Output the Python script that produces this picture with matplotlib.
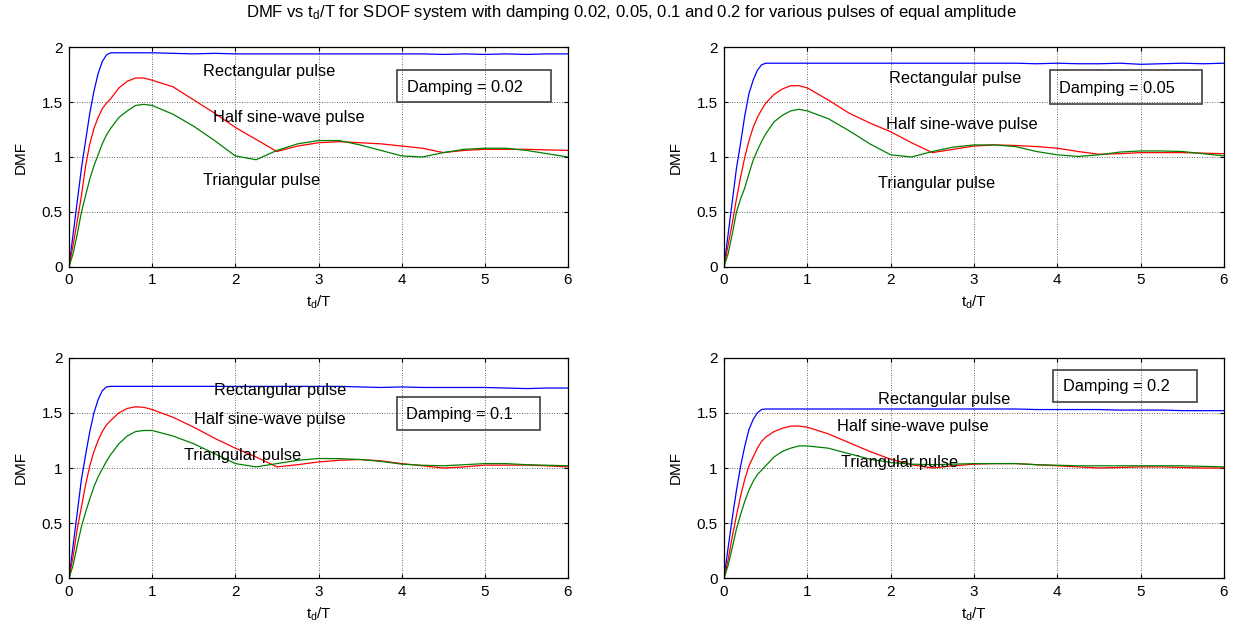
"""DMF vs td/T for an SDOF system under three pulse shapes, four damping ratios."""
import matplotlib
matplotlib.use("Agg")
import matplotlib.pyplot as plt
from matplotlib.patches import Rectangle

plt.rcParams["font.family"] = ["Liberation Sans", "DejaVu Sans"]
plt.rcParams["mathtext.default"] = "regular"

# pulse duration / natural period (sample points)
TD = [0, 0.05, 0.1, 0.15, 0.2, 0.25, 0.3, 0.35, 0.4, 0.45, 0.5,
      0.6, 0.7, 0.8, 0.9, 1.0, 1.25, 1.5, 1.75, 2.0, 2.25, 2.5,
      2.75, 3.0, 3.25, 3.5, 3.75, 4.0, 4.25, 4.5, 4.75, 5.0, 5.25, 5.5, 5.75, 6.0]

DAMPING = ["0.02", "0.05", "0.1", "0.2"]

RECT_002 = [0, .30, .60, .90, 1.15, 1.40, 1.60, 1.76, 1.87, 1.93, 1.95,
            1.95, 1.95, 1.95, 1.95, 1.95, 1.945, 1.94, 1.945, 1.94, 1.94, 1.94,
            1.94, 1.94, 1.94, 1.94, 1.94, 1.94, 1.94, 1.935, 1.94, 1.935, 1.94, 1.935, 1.94, 1.94]
HALF_002 = [0, .20, .42, .65, .92, 1.12, 1.26, 1.36, 1.44, 1.49, 1.53,
            1.63, 1.69, 1.72, 1.72, 1.70, 1.64, 1.52, 1.40, 1.27, 1.16, 1.05,
            1.10, 1.13, 1.14, 1.13, 1.12, 1.10, 1.08, 1.04, 1.06, 1.07, 1.07, 1.07, 1.065, 1.06]
TRI_002 = [0, .12, .30, .50, .65, .80, .92, 1.02, 1.12, 1.20, 1.26,
           1.36, 1.42, 1.47, 1.48, 1.47, 1.39, 1.28, 1.15, 1.01, 0.975, 1.06,
           1.12, 1.15, 1.15, 1.11, 1.06, 1.01, 1.0, 1.04, 1.07, 1.08, 1.08, 1.06, 1.03, 1.0]

RECT_005 = [0, .30, .60, .90, 1.13, 1.38, 1.58, 1.70, 1.79, 1.84, 1.855,
            1.855, 1.855, 1.855, 1.855, 1.855, 1.855, 1.855, 1.855, 1.855, 1.855, 1.855,
            1.855, 1.855, 1.855, 1.855, 1.85, 1.855, 1.85, 1.85, 1.855, 1.845, 1.85, 1.855, 1.85, 1.855]
HALF_005 = [0, .20, .40, .62, .82, 1.00, 1.15, 1.27, 1.36, 1.43, 1.49,
            1.57, 1.62, 1.65, 1.65, 1.63, 1.52, 1.40, 1.31, 1.23, 1.13, 1.04,
            1.07, 1.10, 1.11, 1.105, 1.095, 1.08, 1.05, 1.025, 1.03, 1.04, 1.04, 1.04, 1.035, 1.03]
TRI_005 = [0, .12, .30, .50, .62, .72, .85, .97, 1.06, 1.14, 1.21,
           1.32, 1.38, 1.42, 1.435, 1.42, 1.35, 1.24, 1.12, 1.02, 1.0, 1.05,
           1.09, 1.11, 1.11, 1.095, 1.05, 1.02, 1.005, 1.02, 1.045, 1.055, 1.055, 1.05, 1.03, 1.01]

RECT_01 = [0, .30, .60, .90, 1.12, 1.33, 1.50, 1.62, 1.70, 1.735, 1.74,
           1.74, 1.74, 1.74, 1.74, 1.74, 1.74, 1.74, 1.74, 1.74, 1.74, 1.74,
           1.74, 1.74, 1.74, 1.735, 1.73, 1.735, 1.73, 1.73, 1.73, 1.73, 1.725, 1.72, 1.725, 1.725]
HALF_01 = [0, .20, .45, .65, .85, 1.02, 1.15, 1.25, 1.33, 1.39, 1.43,
           1.50, 1.54, 1.555, 1.55, 1.53, 1.46, 1.37, 1.27, 1.18, 1.10, 1.01,
           1.03, 1.055, 1.07, 1.077, 1.065, 1.04, 1.02, 1.0, 1.01, 1.026, 1.026, 1.026, 1.02, 1.01]
TRI_01 = [0, .12, .30, .47, .60, .72, .83, .92, .99, 1.06, 1.12,
          1.22, 1.29, 1.33, 1.34, 1.34, 1.29, 1.22, 1.13, 1.04, 1.01, 1.04,
          1.07, 1.086, 1.085, 1.077, 1.06, 1.035, 1.025, 1.02, 1.03, 1.04, 1.04, 1.03, 1.025, 1.02]

RECT_02 = [0, .28, .55, .80, 1.02, 1.20, 1.35, 1.44, 1.50, 1.53, 1.535,
           1.535, 1.535, 1.535, 1.535, 1.535, 1.535, 1.535, 1.535, 1.535, 1.535, 1.535,
           1.535, 1.535, 1.535, 1.535, 1.53, 1.53, 1.53, 1.53, 1.525, 1.525, 1.525, 1.52, 1.52, 1.52]
HALF_02 = [0, .17, .38, .57, .75, .90, 1.02, 1.10, 1.18, 1.24, 1.28,
           1.33, 1.36, 1.38, 1.38, 1.37, 1.31, 1.23, 1.15, 1.08, 1.03, 1.0,
           1.02, 1.035, 1.04, 1.04, 1.03, 1.02, 1.01, 1.0, 1.005, 1.01, 1.01, 1.005, 1.0, 1.0]
TRI_02 = [0, .12, .28, .45, .58, .70, .80, .88, .94, .98, 1.02,
          1.10, 1.15, 1.18, 1.20, 1.20, 1.18, 1.13, 1.08, 1.05, 1.035, 1.03,
          1.035, 1.04, 1.04, 1.04, 1.03, 1.025, 1.02, 1.02, 1.02, 1.02, 1.02, 1.02, 1.015, 1.01]

RECT = [RECT_002, RECT_005, RECT_01, RECT_02]
HALF = [HALF_002, HALF_005, HALF_01, HALF_02]
TRI = [TRI_002, TRI_005, TRI_01, TRI_02]

LABELS = ["Rectangular pulse", "Half sine-wave pulse", "Triangular pulse"]
# label anchors (data coords) per panel: rect, half, tri
LABEL_POS = [
    [(1.61, 1.78), (1.73, 1.36), (1.61, 0.785)],
    [(1.98, 1.72), (1.94, 1.30), (1.845, 0.757)],
    [(1.74, 1.70), (1.50, 1.44), (1.38, 1.116)],
    [(1.845, 1.623), (1.36, 1.373), (1.40, 1.047)],
]
# damping box: x0, x1, y0, y1, text x, text y
BOX_POS = [
    (3.94, 5.79, 1.497, 1.79, 4.06, 1.636),
    (3.91, 5.74, 1.485, 1.79, 4.02, 1.627),
    (3.94, 5.66, 1.348, 1.644, 4.05, 1.484),
    (3.945, 5.68, 1.597, 1.887, 4.07, 1.743),
]

W, H = 1236, 635
AX_PX = [  # left, top, right, bottom in pixels
    (69, 47.3, 568, 266.7),
    (724, 47.3, 1224, 266.7),
    (69, 357.7, 568, 578.3),
    (724, 357.7, 1224, 578.3),
]

fig = plt.figure(figsize=(W / 100, H / 100), dpi=100)
fig.patch.set_facecolor("white")

for i, (l, t, r, b) in enumerate(AX_PX):
    ax = fig.add_axes([l / W, 1 - b / H, (r - l) / W, (b - t) / H])
    ax.plot(TD, RECT[i], color="#0000ff", lw=0.9)
    ax.plot(TD, HALF[i], color="#ff0000", lw=0.9)
    ax.plot(TD, TRI[i], color="#008000", lw=0.9)
    ax.set_xlim(0, 6)
    ax.set_ylim(0, 2)
    ax.set_xticks(range(7))
    ax.set_xticklabels([str(v) for v in range(7)])
    ax.set_yticks([0, 0.5, 1, 1.5, 2])
    ax.set_yticklabels(["0", "0.5", "1", "1.5", "2"])
    ax.tick_params(direction="in", length=3, width=0.8, labelsize=11,
                   top=True, right=True, pad=4.5, colors="black")
    ax.grid(True, color="black", linestyle=(0, (1, 2)), linewidth=0.6, alpha=0.8)
    for s in ax.spines.values():
        s.set_linewidth(0.9)
    ax.set_ylabel("DMF", fontsize=11, labelpad=10)
    ax.set_xlabel("t$_d$/T", fontsize=11, labelpad=5)
    for text, (x, y) in zip(LABELS, LABEL_POS[i]):
        ax.text(x, y, text, fontsize=11.8, ha="left", va="center")
    x0, x1, y0, y1, tx, ty = BOX_POS[i]
    ax.add_patch(Rectangle((x0, y0), x1 - x0, y1 - y0, fill=False,
                           edgecolor="#404040", linewidth=1.2, zorder=5))
    ax.text(tx, ty, f"Damping = {DAMPING[i]}", fontsize=11.8, ha="left", va="center")

fig.text(0.511, 1 - 13 / H,
         "DMF vs t$_d$/T for SDOF system with damping 0.02, 0.05, 0.1 and 0.2 "
         "for various pulses of equal amplitude",
         ha="center", va="center", fontsize=12)

fig.savefig("out.png", dpi=100)
